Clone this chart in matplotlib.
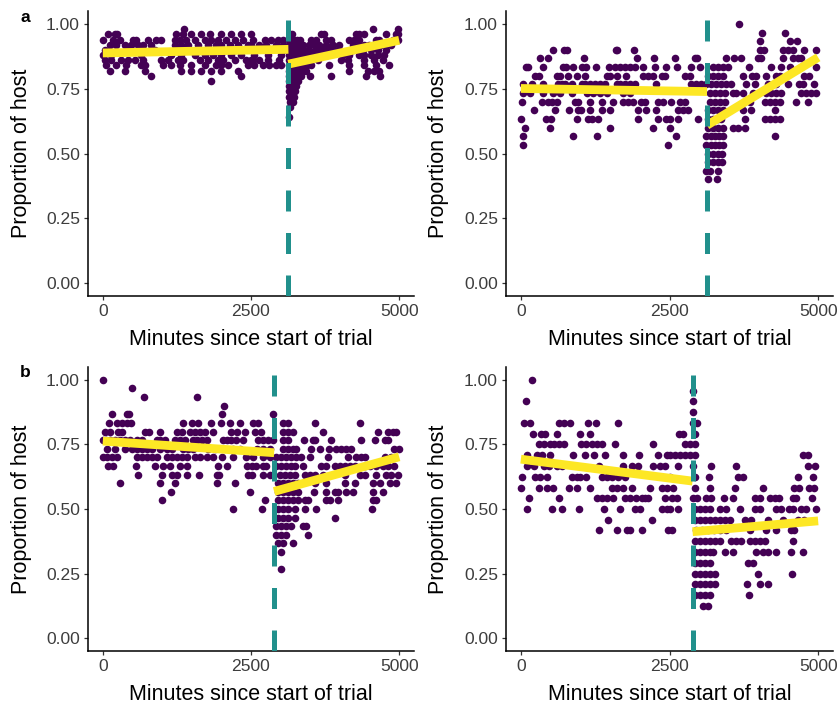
import matplotlib
matplotlib.use("Agg")
import matplotlib.pyplot as plt
import numpy as np

plt.rcParams['font.family'] = ['Liberation Sans', 'DejaVu Sans']

# ---------------- data ----------------
# Panel a, left: proportion levels and minute positions of points on each level
tl_levels = [0.98, 0.96, 0.94, 0.92, 0.90, 0.88, 0.86, 0.84, 0.82, 0.80, 0.78, 0.76, 0.74, 0.72, 0.70, 0.68, 0.64]
tl_rows = [
    [1369, 4551, 4978],
    [89, 213, 247, 1240, 1352, 1492, 1661, 1801, 1998, 2166, 2334, 2503, 3150, 3200, 3682, 3738, 4271, 4327, 4411, 4776, 4944, 4972],
    [0, 174, 286, 510, 567, 763, 903, 987, 1212, 1296, 1408, 1549, 1717, 1829, 1941, 2082, 2222, 2362, 2531, 2728, 2840, 2952, 3036, 3140, 3180, 3230, 3280, 3330, 3513, 3597, 3766, 3850, 4159, 4243, 4327, 4607, 4663, 4888, 4972],
    [118, 230, 370, 482, 595, 679, 819, 1212, 1324, 1436, 1605, 1773, 1913, 1998, 2138, 2278, 2447, 2503, 2643, 2756, 2924, 3036, 3140, 3180, 3220, 3270, 3320, 3370, 3485, 3569, 3654, 3766, 3878, 3990, 4215, 4327, 4411, 4495, 4636, 4692, 4776, 4860],
    [33, 426, 875, 1324, 1773, 2222, 2587, 2812, 3036, 3140, 3190, 3240, 3290, 3340, 3400, 3485, 3597, 3710, 3822, 3906, 3990, 4215, 4383, 4523, 4636, 4776],
    [0, 146, 651, 1156, 1324, 1549, 1717, 1857, 1998, 2166, 2334, 2559, 2784, 3008, 3140, 3190, 3240, 3290, 3350, 3420, 3541, 3654, 4046, 4159, 4327, 4411, 4523, 4636, 4748],
    [33, 146, 314, 426, 538, 679, 987, 1100, 1268, 1352, 1633, 1773, 1941, 2026, 2222, 2419, 2503, 2531, 2643, 2784, 2980, 3140, 3180, 3230, 3280, 3330, 3400, 3460, 3626, 4018, 4131, 4411, 4580, 4720],
    [61, 230, 398, 651, 707, 1015, 1156, 1296, 1492, 1717, 1913, 1998, 2110, 2447, 2559, 2700, 2812, 2924, 3008, 3140, 3180, 3220, 3270, 3320, 3380, 3440, 3510, 3822, 4159, 4411, 4607, 4832],
    [118, 370, 707, 1324, 1492, 1661, 1829, 1998, 2278, 3140, 3180, 3220, 3260, 3310, 3370, 3430, 4159, 4472, 4580, 4663],
    [819, 2334, 3140, 3170, 3210, 3250, 3300, 3350, 3490, 3855, 4445, 4669],
    [1829, 3140, 3170, 3210, 3250, 3300],
    [3140, 3170, 3210, 3260],
    [3140, 3170, 3210, 3240],
    [3140, 3170, 3200, 3230],
    [3150, 3180, 3210],
    [3160],
    [3140],
]

# Panel a, right
tr_levels = [1.0, 0.967, 0.933, 0.9, 0.867, 0.833, 0.8, 0.767, 0.733, 0.7, 0.667, 0.633, 0.6, 0.567, 0.533, 0.5, 0.467, 0.433, 0.4]
tr_rows = [
    [3663],
    [4054, 4446],
    [4026, 4535, 4647],
    [536, 732, 782, 1599, 1621, 1901, 4015, 4088, 4407, 4490, 4574, 4770, 4966],
    [323, 463, 1062, 1945, 2236, 2600, 2924, 2964, 3456, 3579, 3697, 3987, 4043, 4407, 4574, 4658, 4714],
    [88, 128, 379, 715, 760, 871, 1022, 1095, 1263, 1487, 1582, 1666, 1750, 1833, 1917, 2046, 2258, 2437, 2634, 2857, 3008, 3232, 3316, 3400, 3484, 3830, 4200, 4379, 4535, 4714, 4966],
    [240, 312, 603, 659, 799, 939, 1078, 1442, 1498, 1621, 1766, 2057, 2141, 2225, 2382, 2421, 2757, 2841, 3148, 3232, 3316, 3400, 3735, 3887, 3959, 4127, 4295, 4351, 4770, 4854],
    [44, 184, 379, 631, 687, 743, 855, 1022, 1078, 1162, 1246, 1330, 1414, 1610, 1666, 1750, 1833, 1917, 2281, 2868, 2952, 3036, 3120, 3204, 3288, 3372, 3456, 3540, 3791, 3931, 4155, 4295, 4490, 4686, 4742, 4938],
    [44, 156, 379, 547, 659, 855, 1106, 1218, 1330, 1442, 1722, 1833, 3176, 3260, 3344, 3428, 3568, 3624, 3735, 3903, 4127, 4211, 4295, 4379, 4714, 4798, 4882, 4966],
    [16, 351, 463, 519, 603, 911, 967, 1162, 1358, 1554, 1722, 1806, 1889, 2029, 2085, 2309, 2393, 2533, 2673, 2757, 3176, 3260, 3344, 3428, 3847, 4099, 4183, 4267, 4351, 4630, 4837],
    [223, 575, 815, 967, 1006, 1162, 1358, 1498, 1973, 2113, 2281, 2645, 2729, 2813, 3148, 3232, 3316, 3400, 3735, 3875, 4267],
    [0, 424, 502, 939, 1134, 1190, 1302, 1973, 2309, 2449, 2505, 2645, 2980, 3148, 3232, 3316, 3372, 3763, 4099, 4183, 4267, 4351],
    [72, 491, 1498, 2225, 2505, 3148, 3232, 3316, 3400, 3568, 3652, 3763],
    [33, 883, 1285, 2617, 3120, 3190, 3260, 3330, 3400, 4267],
    [44, 2477, 3120, 3190, 3260, 3330, 3400],
    [3148, 3232, 3316, 3380],
    [3148, 3232, 3316, 3380],
    [3121, 3177, 3317],
    [3149, 3305],
]

# Panel b, left
bl_levels = [1.0, 0.967, 0.933, 0.9, 0.867, 0.833, 0.8, 0.767, 0.733, 0.7, 0.667, 0.633, 0.6, 0.567, 0.533, 0.5, 0.467, 0.433, 0.4, 0.367, 0.333, 0.267]
bl_rows = [
    [0],
    [499],
    [695, 1582],
    [2042],
    [162, 414, 448, 2003, 2873],
    [111, 235, 319, 403, 476, 1357, 1497, 1610, 1823, 1991, 2143, 2311, 2536, 2620, 3041, 3125, 3585, 4332],
    [38, 123, 263, 330, 712, 779, 964, 1245, 1329, 1469, 1554, 1638, 1722, 1862, 2171, 2272, 2395, 2564, 2676, 3041, 3125, 3209, 3714, 4640, 4809, 4893, 4949],
    [10, 56, 123, 208, 292, 376, 460, 572, 657, 909, 965, 1049, 1217, 1302, 1386, 1525, 1583, 1666, 1750, 2020, 2088, 2171, 2255, 2367, 2621, 2705, 2789, 2873, 3041, 3125, 3395, 3546, 3585, 3855, 4360, 4584, 4753, 4809],
    [66, 207, 376, 488, 572, 657, 741, 825, 964, 1077, 1162, 1358, 1442, 1526, 1779, 1891, 2200, 2312, 2593, 2705, 2817, 3041, 3125, 3209, 3265, 3518, 3658, 3810, 3939, 4023, 4107, 4191, 4921, 5005],
    [0, 67, 152, 236, 572, 657, 741, 825, 909, 1077, 1162, 1246, 1330, 1414, 1555, 1639, 1751, 1863, 2003, 2200, 2424, 2537, 2705, 2817, 2929, 3013, 3097, 3181, 3265, 3350, 3490, 3799, 4135, 4276, 4360, 4416, 4753, 4865],
    [79, 180, 556, 881, 1021, 1134, 1302, 1414, 1947, 2088, 2436, 2509, 2581, 2705, 2761, 2929, 3013, 3097, 3181, 3237, 3378, 3686, 3771, 3911, 3995, 4079, 4163, 4247, 4416, 4500, 4612, 4725, 4809, 4921],
    [600, 993, 1162, 1246, 1414, 1627, 1919, 1964, 2452, 2509, 2705, 2816, 2985, 3069, 3153, 3237, 3406, 3490, 3574, 3714, 4079, 4332, 4416, 4612, 4781, 4865, 4977],
    [292, 965, 1218, 1919, 2228, 2957, 3041, 3125, 3209, 3293, 3574, 3771, 4079, 4248, 4556, 4668, 4837, 4949],
    [1150, 2480, 2957, 3041, 3125, 3209, 3293, 3563, 3771, 3911, 3967, 4107, 4220, 4556, 4725],
    [993, 2732, 2957, 3041, 3125, 3209, 3293, 3406, 3462, 3771, 3827, 3967, 4556, 4612],
    [2200, 2687, 2957, 3041, 3125, 3237, 3406, 3602, 4540],
    [2957, 3041, 3125, 3237, 3911],
    [2929, 3013, 3097, 3181, 3378, 3434],
    [2929, 3013, 3097, 3462],
    [2957, 3041, 3209],
    [3013],
    [3013],
]

# Panel b, right
br_levels = [1.0, 0.958, 0.917, 0.875, 0.833, 0.792, 0.75, 0.708, 0.667, 0.625, 0.583, 0.542, 0.5, 0.458, 0.417, 0.375, 0.333, 0.292, 0.25, 0.208, 0.167, 0.125]
br_rows = [
    [190],
    [2899],
    [79, 2899],
    [2899],
    [51, 162, 637, 721, 821, 1123, 1268, 1642, 2899, 2955],
    [207, 341, 414, 609, 1000, 1156, 2664, 2720, 2927],
    [302, 386, 486, 553, 637, 721, 1011, 1100, 1195, 1279, 1363, 1586, 2217, 2759, 2843, 2927],
    [107, 274, 358, 497, 877, 1084, 1223, 1419, 1714, 1994, 2312, 2451, 2508, 2592, 2675, 2759, 2843, 2927, 4741, 4825],
    [107, 218, 386, 470, 600, 700, 1307, 1726, 1865, 1977, 2228, 2340, 2424, 2648, 2899, 3206, 3613, 4825, 4953],
    [23, 246, 330, 442, 860, 944, 1000, 1100, 1363, 1447, 1530, 1642, 1754, 2508, 2927, 3167, 3653, 3736, 4658, 4909],
    [6, 302, 442, 542, 805, 944, 1167, 1530, 1614, 1726, 1865, 2172, 2368, 2451, 2564, 2927, 3189, 3597, 4071, 4602, 4686, 4853, 4937],
    [135, 637, 1279, 1363, 1447, 1558, 1754, 1837, 1938, 2033, 2089, 2145, 2424, 2536, 2620, 2899, 2955, 3122, 3206, 3412, 3569, 3932, 4015, 4183, 4267, 4350, 4574, 4630, 4898],
    [95, 525, 693, 972, 1391, 1670, 1921, 2005, 2368, 2451, 2508, 2648, 2927, 3011, 3095, 3178, 3345, 3457, 3680, 3932, 4015, 4295, 4378, 4518, 4574, 4713, 4797, 4965],
    [1474, 2200, 2927, 3011, 3095, 3178, 3262, 3346, 3429, 3513, 3764, 3876, 4155, 4406, 4658, 4769],
    [1307, 1614, 1782, 1837, 2033, 2479, 2536, 2950, 3050, 3150, 3250, 3350, 3450, 3848, 4127, 4295, 4546, 4602],
    [2927, 3011, 3095, 3178, 3262, 3346, 3541, 3625, 3708, 3848, 3932, 4015, 4099, 4574],
    [2927, 3011, 3095, 3178, 3234, 3429, 3569, 3960, 4071, 4155, 4295, 4546, 4741],
    [2927, 3011, 3095, 3178, 3820, 3904],
    [2927, 3011, 3095, 3178, 3262, 3987, 4562],
    [2927, 3011, 3095, 3178, 3262, 3803, 4015, 4155],
    [2927, 3011, 3095, 3178, 3831],
    [3066, 3150],
]

# Breakpoints (minutes) and fitted segments: [x0, x1], [y0, y1]
breaks = [3131, 3131, 2890, 2888]
pre_fit = [[0.888, 0.902], [0.751, 0.739], [0.763, 0.718], [0.693, 0.608]]
post_fit = [[0.845, 0.937], [0.609, 0.871], [0.568, 0.702], [0.412, 0.454]]
fit_x_end = 5000

x_ticks = [0, 2500, 5000]
y_ticks = [0.00, 0.25, 0.50, 0.75, 1.00]
x_label = "Minutes since start of trial"
y_label = "Proportion of host"

# ---------------- drawing ----------------
W, H = 839, 706
fig = plt.figure(figsize=(W / 100, H / 100), dpi=100)

def ax_rect(l, r, t, b):
    return [l / W, 1 - b / H, (r - l) / W, (b - t) / H]

rects = [ax_rect(88, 414, 11, 296), ax_rect(506, 833, 11, 296),
         ax_rect(88, 414, 367, 651), ax_rect(506, 833, 367, 651)]
panels = [(tl_levels, tl_rows), (tr_levels, tr_rows), (bl_levels, bl_rows), (br_levels, br_rows)]

PURPLE = "#440154"
YELLOW = "#FDE725"
TEAL = "#21908C"

for i, (rect, (levels, rows)) in enumerate(zip(rects, panels)):
    ax = fig.add_axes(rect)
    xs, ys = [], []
    for lev, row in zip(levels, rows):
        xs.extend(row)
        ys.extend([lev] * len(row))
    ax.scatter(xs, ys, s=30, color=PURPLE, linewidths=0, zorder=2)
    bp = breaks[i]
    ax.plot([0, bp], pre_fit[i], color=YELLOW, lw=6.3, solid_capstyle='butt', zorder=3)
    ax.plot([bp, fit_x_end], post_fit[i], color=YELLOW, lw=6.3, solid_capstyle='butt', zorder=3)
    ax.axvline(bp, ymin=0, ymax=1, color=TEAL, lw=3.6, linestyle=(0, (4.2, 4.3)), zorder=4)

    ax.set_xlim(-250, 5250)
    ax.set_ylim(-0.05, 1.05)
    ax.set_xticks(x_ticks)
    ax.set_xticklabels([str(v) for v in x_ticks])
    ax.set_yticks(y_ticks)
    ax.set_yticklabels([f"{v:.2f}" for v in y_ticks])
    for s in ['top', 'right']:
        ax.spines[s].set_visible(False)
    for s in ['left', 'bottom']:
        ax.spines[s].set_linewidth(1.1)
        ax.spines[s].set_color('black')
    ax.tick_params(axis='both', length=3.2, width=0.9, color='#333333',
                   labelsize=12.6, labelcolor='#3d3d3d', pad=2.6)

    # axis titles
    l, b, w, h = rect
    fig.text(l + w / 2, b - 49 / H, x_label, ha='center', va='baseline', fontsize=15.5, color='black')
    fig.text(l - 67 / W, b + h / 2, y_label, ha='center', va='center', rotation=90, fontsize=15.5, color='black')

fig.text(25 / W, 1 - 18 / H, "a", ha='center', va='center', fontsize=12.5, fontweight='bold')
fig.text(25 / W, 1 - 373 / H, "b", ha='center', va='center', fontsize=12.5, fontweight='bold')

fig.savefig("out.png", dpi=100)
